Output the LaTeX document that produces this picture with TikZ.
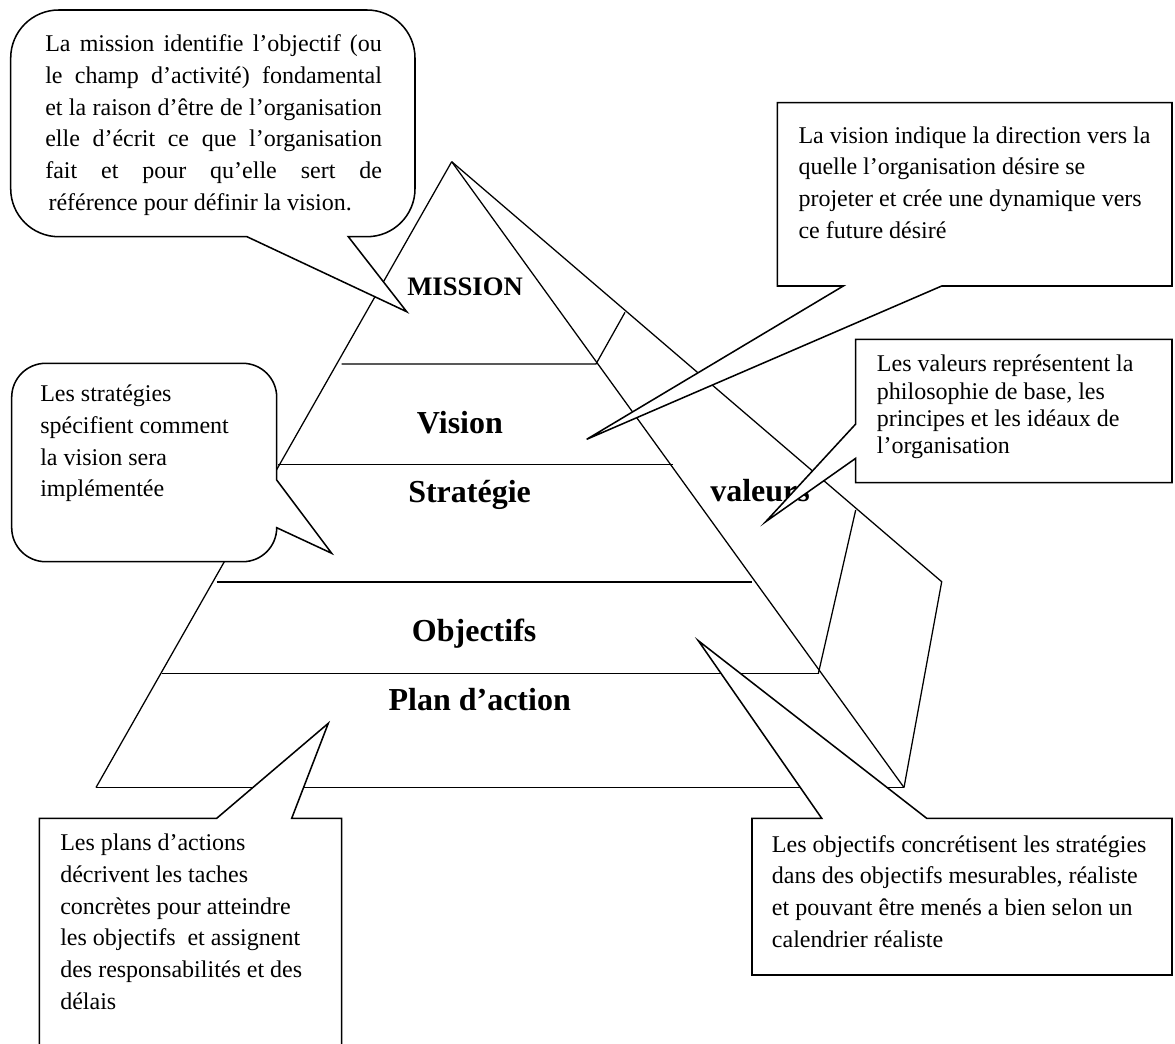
\documentclass[tikz,border=0pt]{standalone}
\usepackage{fontspec}
\setmainfont{Liberation Serif}[Ligatures=CommonOff]
\begin{document}
\begin{tikzpicture}[x=0.75pt,y=-0.75pt,
  pyr/.style={line width=0.95pt,line join=miter},
  callout/.style={draw,fill=white,line width=1.15pt,line join=miter},
  txt/.style={anchor=base west,inner sep=0pt,font=\fontsize{18pt}{24pt}\selectfont},
  lbl/.style={anchor=base west,inner sep=0pt,font=\fontsize{24pt}{28pt}\selectfont\bfseries},
  lblsmall/.style={anchor=base west,inner sep=0pt,font=\fontsize{20pt}{24pt}\selectfont\bfseries}]
\useasboundingbox (0,0) rectangle (1175,1043);
\clip (0,0) rectangle (1175,1043);
\fill[white] (0,0) rectangle (1175,1043);
% pyramid points
\coordinate (apex) at (451.7,161.7);
\coordinate (bl) at (96,787.5);
\coordinate (br) at (904,787.5);
\coordinate (ov) at (941.7,581.7);
\coordinate (ft) at (855.7,510);
\coordinate (fb) at (818.3,673.7);
\coordinate (m1) at (341.7,364);
\coordinate (m2) at (596,364);
\coordinate (m3) at (625,312.3);
\coordinate (v1) at (278.3,464.3);
\coordinate (v2) at (673,464.3);
\coordinate (s1) at (216.7,582);
\coordinate (s2) at (752,582);
\coordinate (o1) at (161.7,673.7);
\coordinate (o2) at (819,673.7);
% pyramid lines
\draw[pyr] (apex) -- (bl);
\draw[pyr] (apex) -- (br);
\draw[pyr] (apex) -- (ov) -- (br);
\draw[pyr] (ft) -- (fb);
\draw[pyr] (m1) -- (m2) -- (m3);
\draw[pyr] (v1) -- (v2);
\draw[pyr] (s1) -- (s2);
\draw[pyr] (o1) -- (o2);
\draw[pyr] (bl) -- (br);
% labels
\node[lblsmall] (lmission) at (407,295) {MISSION};
\node[lbl] (lvision) at (416.7,433.3) {Vision};
\node[lbl] (lstrat) at (408,502) {Stratégie};
\node[lbl] (lval) at (710,501.7) {valeurs};
\node[lbl] (lobj) at (411.7,641) {Objectifs};
\node[lbl] (lplan) at (388.3,710) {Plan d’action};
% mission callout (corner radius 48)
\draw[callout] (247,236.7) -- (406.7,311.7) -- (348.3,236.7) -- (367,236.7)
  .. controls (393.5,236.7) and (415,215.2) .. (415,188.7)
  -- (415,58) .. controls (415,31.5) and (393.5,10) .. (367,10)
  -- (58.7,10) .. controls (32.2,10) and (10.7,31.5) .. (10.7,58)
  -- (10.7,188.7) .. controls (10.7,215.2) and (32.2,236.7) .. (58.7,236.7)
  -- cycle;
\node[txt] (mt1) at (45,51.7) {\makebox[252.5pt][s]{La mission identifie l’objectif (ou}};
\node[txt] (mt2) at (45,83.3) {\makebox[252.5pt][s]{le champ d’activité) fondamental}};
\node[txt] (mt3) at (45,115) {\makebox[252.5pt][s]{et la raison d’être de l’organisation}};
\node[txt] (mt4) at (45,146.7) {\makebox[252.5pt][s]{elle d’écrit ce que l’organisation}};
\node[txt] (mt5) at (45,178.3) {\makebox[252.5pt][s]{fait et pour qu’elle sert de}};
\node[txt] (mt6) at (48.3,210) {référence pour définir la vision.};
% strategies callout
\draw[callout] (276.7,480) -- (331.7,553.3) -- (276.7,527.7)
  .. controls (276.7,546.5) and (261.5,561.7) .. (242.7,561.7)
  -- (45.7,561.7) .. controls (26.9,561.7) and (11.7,546.5) .. (11.7,527.7)
  -- (11.7,397.3) .. controls (11.7,378.5) and (26.9,363.3) .. (45.7,363.3)
  -- (242.7,363.3) .. controls (261.5,363.3) and (276.7,378.5) .. (276.7,397.3)
  -- cycle;
\node[txt] (st1) at (40,401.7) {Les stratégies};
\node[txt] (st2) at (40,433.4) {spécifient comment};
\node[txt] (st3) at (40,465) {la vision sera};
\node[txt] (st4) at (40,496.7) {implémentée};
% vision callout
\draw[callout] (843.3,286) -- (586.7,439.3) -- (941.7,286) -- (1172,286)
  -- (1172,102.7) -- (777.3,102.7) -- (777.3,286) -- cycle;
\node[txt] (vt1) at (798.3,143) {La vision indique la direction vers la};
\node[txt] (vt2) at (798.3,174.7) {quelle l’organisation désire se};
\node[txt] (vt3) at (798.3,206.3) {projeter et crée une dynamique vers};
\node[txt] (vt4) at (798.3,238) {ce future désiré};
% valeurs callout
\draw[callout] (855.7,424) -- (765.7,521.7) -- (855.7,458.3) -- (855.7,482.7)
  -- (1172,482.7) -- (1172,339.3) -- (855.7,339.3) -- cycle;
\node[txt] (at1) at (876.7,371.7) {Les valeurs représentent la};
\node[txt] (at2) at (876.7,399) {philosophie de base, les};
\node[txt] (at3) at (876.7,426.2) {principes et les idéaux de};
\node[txt] (at4) at (876.7,453.4) {l’organisation};
% objectifs callout
\draw[callout] (821.7,818.3) -- (698.3,640.7) -- (926.7,818.3) -- (1172,818.3)
  -- (1172,975) -- (752,975) -- (752,818.3) -- cycle;
\node[txt] (ot1) at (771.7,852) {Les objectifs concrétisent les stratégies};
\node[txt] (ot2) at (771.7,883.7) {dans des objectifs mesurables, réaliste};
\node[txt] (ot3) at (771.7,915.3) {et pouvant être menés a bien selon un};
\node[txt] (ot4) at (771.7,947) {calendrier réaliste};
% plan callout
\draw[callout] (216.7,818.3) -- (328.3,723.3) -- (291.7,818.3) -- (341.7,818.3)
  -- (341.7,1070) -- (39.3,1070) -- (39.3,818.3) -- cycle;
\node[txt] (pt1) at (60,850.7) {Les plans d’actions};
\node[txt] (pt2) at (60,882.3) {décrivent les taches};
\node[txt] (pt3) at (60,914) {concrètes pour atteindre};
\node[txt] (pt4) at (60,945.7) {les objectifs \ et assignent};
\node[txt] (pt5) at (60,977.3) {des responsabilités et des};
\node[txt] (pt6) at (60,1009) {délais};
\end{tikzpicture}
\end{document}
